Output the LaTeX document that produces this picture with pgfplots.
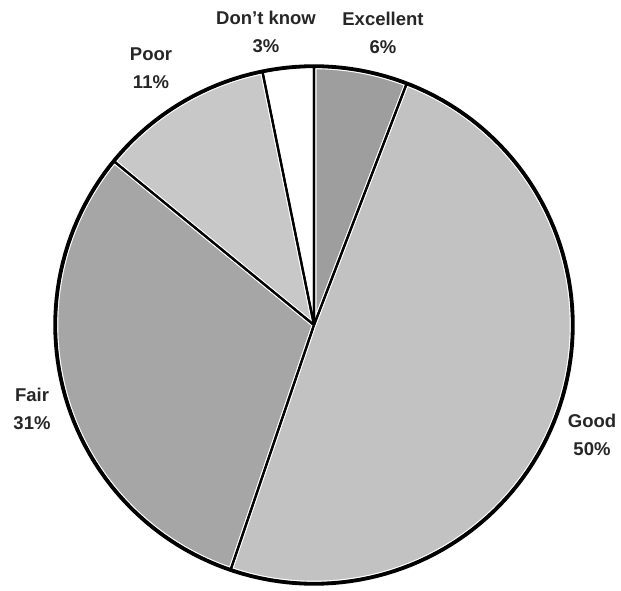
\documentclass[border=0pt]{standalone}
\usepackage{fontspec}
\setmainfont{Liberation Sans}
\usepackage{pgfplots}
\pgfplotsset{compat=1.18}
\definecolor{cExc}{HTML}{9E9E9E}
\definecolor{cGood}{HTML}{C2C2C2}
\definecolor{cFair}{HTML}{A6A6A6}
\definecolor{cPoor}{HTML}{C8C8C8}
\definecolor{cDK}{HTML}{FFFFFF}
\tikzset{lbl/.style={font=\fontsize{18.5}{28}\selectfont\bfseries, align=center, text=black!85, inner sep=0pt}}
% slice boundaries in degrees (counter-clockwise from 3 o'clock), radius 258
\newcommand\slice[3]{\addplot[#3, domain=#1:#2, samples=80] ({258*cos(x)},{258*sin(x)}) -- (axis cs:0,0) -- cycle;}
\begin{document}
\begin{tikzpicture}
\begin{axis}[
  x=1pt, y=1pt,
  xmin=-314, xmax=307, ymin=-265, ymax=325,
  hide axis, clip=false,
]
% reserve the full picture area
\path (axis cs:-314,-265) rectangle (axis cs:307,325);
% fills
\slice{69}{90}{fill=cExc, draw=none}
\slice{-108.8}{69}{fill=cGood, draw=none}
\slice{140.7}{251.2}{fill=cFair, draw=none}
\slice{101.5}{140.7}{fill=cPoor, draw=none}
\slice{90}{101.5}{fill=cDK, draw=none}
% white halos
\slice{69}{90}{draw=white, line width=4.5pt, line join=round}
\slice{-108.8}{69}{draw=white, line width=4.5pt, line join=round}
\slice{140.7}{251.2}{draw=white, line width=4.5pt, line join=round}
\slice{101.5}{140.7}{draw=white, line width=4.5pt, line join=round}
\slice{90}{101.5}{draw=white, line width=4.5pt, line join=round}
% black outlines
\slice{69}{90}{draw=black, line width=2.2pt, line join=round}
\slice{-108.8}{69}{draw=black, line width=2.2pt, line join=round}
\slice{140.7}{251.2}{draw=black, line width=2.2pt, line join=round}
\slice{101.5}{140.7}{draw=black, line width=2.2pt, line join=round}
\slice{90}{101.5}{draw=black, line width=2.2pt, line join=round}
% thicker outer rim
\addplot[draw=black, line width=3.4pt, domain=0:360, samples=181] ({259*cos(x)},{259*sin(x)});
% labels
\node[lbl] at (axis cs:-48,293) {Don't know\\3\%};
\node[lbl] at (axis cs:69,292) {Excellent\\6\%};
\node[lbl] at (axis cs:-163,257) {Poor\\11\%};
\node[lbl] at (axis cs:-282,-84) {Fair\\31\%};
\node[lbl] at (axis cs:278,-110) {Good\\50\%};
\end{axis}
\end{tikzpicture}
\end{document}
